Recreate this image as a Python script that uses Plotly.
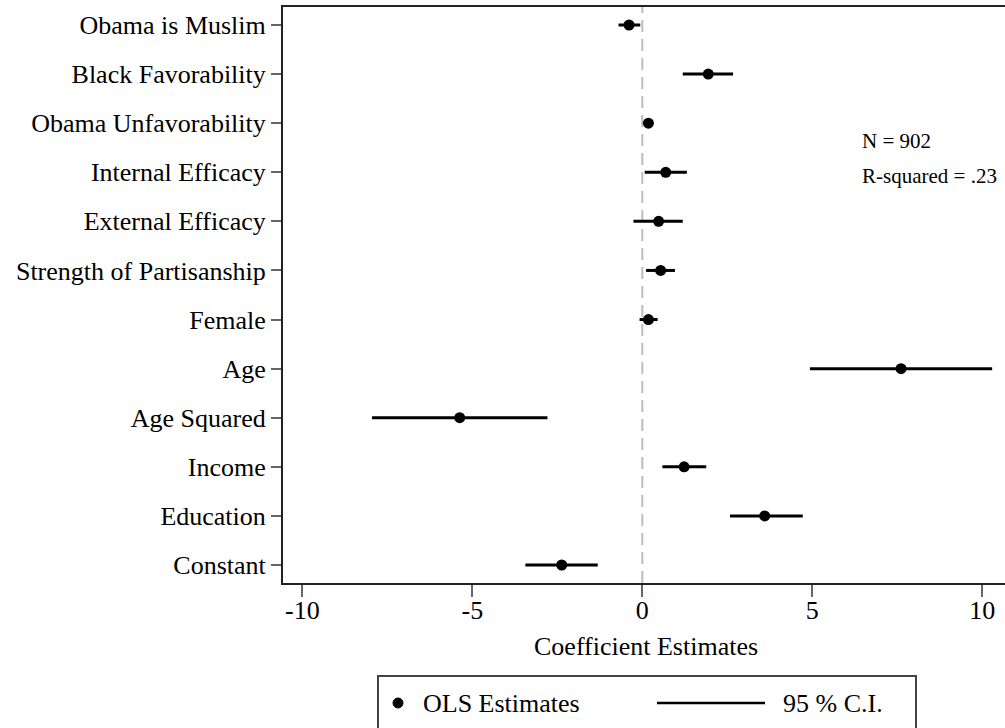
import plotly.graph_objects as go

# ---- data ----
variables = ["Obama is Muslim", "Black Favorability", "Obama Unfavorability",
             "Internal Efficacy", "External Efficacy", "Strength of Partisanship",
             "Female", "Age", "Age Squared", "Income", "Education", "Constant"]
estimates = [-0.39, 1.94, 0.18, 0.69, 0.48, 0.54, 0.18, 7.61, -5.37, 1.23, 3.60, -2.37]
ci_low = [-0.70, 1.19, 0.08, 0.07, -0.26, 0.11, -0.08, 4.93, -7.95, 0.59, 2.58, -3.44]
ci_high = [-0.06, 2.67, 0.28, 1.31, 1.19, 0.96, 0.45, 10.29, -2.79, 1.88, 4.72, -1.31]
x_ticks = [-10, -5, 0, 5, 10]
stats_text = ["N = 902", "R-squared = .23"]
legend_labels = ["OLS Estimates", "95 % C.I."]

# ---- layout geometry (pixels) ----
W, H = 1005, 728
L, R, T, B = 283, 0, 7, 145
PW, PH = W - L - R, H - T - B
FONT = "Liberation Serif, Times New Roman, serif"


def px(xp):
    return (xp - L) / PW


def py(yp):
    return (H - B - yp) / PH


ypos = list(range(len(variables)))

fig = go.Figure()

# CI lines
cx, cy = [], []
for i, (lo, hi) in enumerate(zip(ci_low, ci_high)):
    cx += [lo, hi, None]
    cy += [i, i, None]
fig.add_trace(go.Scatter(x=cx, y=cy, mode="lines",
                         line=dict(color="black", width=3),
                         showlegend=False, hoverinfo="skip"))
# point estimates
fig.add_trace(go.Scatter(x=estimates, y=ypos, mode="markers",
                         marker=dict(color="black", size=11),
                         showlegend=False))

# zero reference line
fig.add_shape(type="line", xref="x", yref="paper", x0=0, x1=0, y0=0, y1=1,
              line=dict(color="#bdbdbd", width=2, dash="12px,7px"), layer="below")

# stats annotations
fig.add_annotation(text=stats_text[0], xref="paper", yref="paper",
                   x=px(860), y=py(141), xanchor="left", yanchor="middle",
                   showarrow=False, font=dict(family=FONT, size=21, color="black"))
fig.add_annotation(text=stats_text[1], xref="paper", yref="paper",
                   x=px(860), y=py(176), xanchor="left", yanchor="middle",
                   showarrow=False, font=dict(family=FONT, size=21, color="black"))

# x-axis title
fig.add_annotation(text="Coefficient Estimates", xref="paper", yref="paper",
                   x=px(646), y=py(646), xanchor="center", yanchor="middle",
                   showarrow=False, font=dict(family=FONT, size=26, color="black"))

# legend (drawn manually)
fig.add_shape(type="rect", xref="paper", yref="paper",
              x0=px(378), x1=px(916), y0=py(676), y1=py(760),
              line=dict(color="#444444", width=2), fillcolor="white")
fig.add_shape(type="circle", xref="paper", yref="paper",
              x0=px(393), x1=px(403), y0=py(708), y1=py(698),
              line=dict(color="black", width=1), fillcolor="black")
fig.add_annotation(text=legend_labels[0], xref="paper", yref="paper",
                   x=px(421), y=py(703), xanchor="left", yanchor="middle",
                   showarrow=False, font=dict(family=FONT, size=26, color="black"))
fig.add_shape(type="line", xref="paper", yref="paper",
              x0=px(657), x1=px(765), y0=py(703), y1=py(703),
              line=dict(color="black", width=2.5))
fig.add_annotation(text=legend_labels[1], xref="paper", yref="paper",
                   x=px(781), y=py(703), xanchor="left", yanchor="middle",
                   showarrow=False, font=dict(family=FONT, size=26, color="black"))

x_lo = (L - 642.3) / 34.0
x_hi = (W - R - 642.3) / 34.0
row = 49.09
y_top = -(25 - T) / row
y_bot = (len(variables) - 1) + (H - B - 565) / row

fig.update_layout(
    width=W, height=H,
    margin=dict(l=L, r=R, t=T, b=B, pad=0),
    paper_bgcolor="white", plot_bgcolor="white",
    showlegend=False,
    font=dict(family=FONT, size=26, color="black"),
    xaxis=dict(range=[x_lo, x_hi], tickvals=x_ticks,
               ticktext=[str(v) for v in x_ticks],
               showgrid=False, zeroline=False,
               showline=True, linecolor="#222222", linewidth=2, mirror=True,
               ticks="outside", ticklen=12, tickwidth=2, tickcolor="#666666",
               ticklabelstandoff=-9,
               tickfont=dict(family=FONT, size=26, color="black")),
    yaxis=dict(range=[y_bot, y_top], tickvals=ypos, ticktext=variables,
               showgrid=False, zeroline=False,
               showline=True, linecolor="#222222", linewidth=2,
               ticks="outside", ticklen=10, tickwidth=2, tickcolor="#666666",
               tickfont=dict(family=FONT, size=26, color="black")),
)

fig.write_html("out.html")
